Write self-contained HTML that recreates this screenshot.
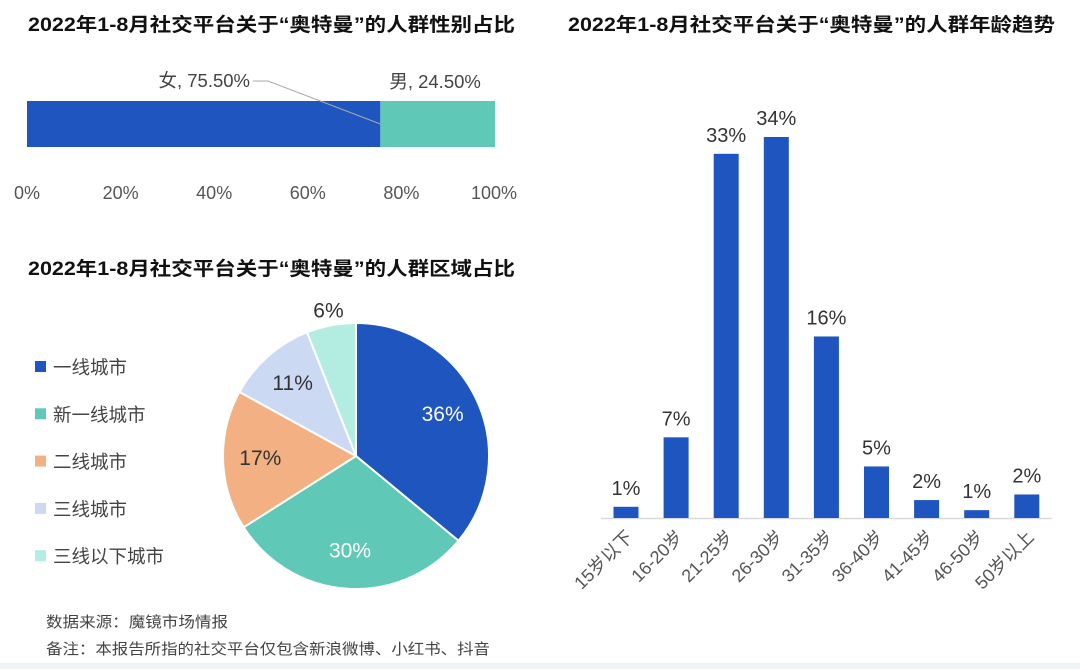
<!DOCTYPE html>
<html><head><meta charset="utf-8">
<style>
body{margin:0;background:#fff;}
svg{display:block;font-family:"Liberation Sans","Noto Sans CJK SC",sans-serif;}
</style></head>
<body>
<svg id="c" width="1080" height="669" viewBox="0 0 1080 669" xmlns="http://www.w3.org/2000/svg">
<rect x="0" y="663" width="1080" height="6" fill="#f2f3f5"/>
<text x="28" y="31" font-size="19" font-weight="bold" fill="#111" textLength="487" lengthAdjust="spacingAndGlyphs">2022年1-8月社交平台关于“奥特曼”的人群性别占比</text>
<text x="568" y="31" font-size="19" font-weight="bold" fill="#111" textLength="487" lengthAdjust="spacingAndGlyphs">2022年1-8月社交平台关于“奥特曼”的人群年龄趋势</text>
<text x="28" y="275" font-size="19" font-weight="bold" fill="#111" textLength="487" lengthAdjust="spacingAndGlyphs">2022年1-8月社交平台关于“奥特曼”的人群区域占比</text>
<g id="gender"></g>
<g id="pie"></g>
<g id="age"></g>
<text x="46" y="627" font-size="15" fill="#444" textLength="182" lengthAdjust="spacingAndGlyphs">数据来源：魔镜市场情报</text>
<text x="46" y="654" font-size="15" fill="#444" textLength="444" lengthAdjust="spacingAndGlyphs">备注：本报告所指的社交平台仅包含新浪微博、小红书、抖音</text>
</svg>
<script>
const NS="http://www.w3.org/2000/svg";
const genderCats=["女","男"];
const genderVals=[75.5,24.5];
const genderTicks=[0,20,40,60,80,100];
const regionCats=["一线城市","新一线城市","二线城市","三线城市","三线以下城市"];
const regionVals=[36,30,17,11,6];
const ageCats=["15岁以下","16-20岁","21-25岁","26-30岁","31-35岁","36-40岁","41-45岁","46-50岁","50岁以上"];
const ageVals=[1.0,7.2,32.5,34,16.2,4.6,1.6,0.7,2.1];
const ageLabels=["1%","7%","33%","34%","16%","5%","2%","1%","2%"];

function mk(tag,attrs,parent,txt){const e=document.createElementNS(NS,tag);for(const k in attrs)e.setAttribute(k,attrs[k]);if(txt!==undefined)e.textContent=txt;parent.appendChild(e);return e;}

// gender
const g=document.getElementById('gender');
const gx=v=>27+v/100*468;
const gColors=["#1f55be","#5fc8b6"];
let acc=0;
genderVals.forEach((v,i)=>{
  const r=mk('rect',{x:gx(acc),y:101,width:gx(acc+v)-gx(acc),height:46,fill:gColors[i]},g);
  
  
  acc+=v;
});
const fl=mk('text',{x:250,y:87,'font-size':18.5,fill:'#444','text-anchor':'end'},g,genderCats[0]+", "+genderVals[0].toFixed(2)+"%");


const ln=mk('polyline',{points:`253,81 268,81 ${gx(genderVals[0])},124`,fill:'none',stroke:'#aaa','stroke-width':1},g);


const ml=mk('text',{x:gx(genderVals[0])+9,y:88,'font-size':18.5,fill:'#444'},g,genderCats[1]+", "+genderVals[1].toFixed(2)+"%");


genderTicks.forEach(t=>{
  const e=mk('text',{x:gx(t)+(t===0?0:t===100?-1:0),y:199,'font-size':18,fill:'#555','text-anchor':'middle'},g,t+"%");
  
  
});

// pie
const p=document.getElementById('pie');
const pColors=["#1f55be","#5fc8b6","#f3b082","#ccd9f3","#b3ede2"];
const lColors=["#fff","#fff","#333","#333","#333"];
const cx=356,cy=456,R=133;
const tot=regionVals.reduce((a,b)=>a+b,0);
let a0=-Math.PI/2;
regionVals.forEach((v,i)=>{
  const a1=a0+v/tot*2*Math.PI;
  const large=(a1-a0)>Math.PI?1:0;
  const d=`M${cx},${cy} L${cx+R*Math.cos(a0)},${cy+R*Math.sin(a0)} A${R},${R} 0 ${large} 1 ${cx+R*Math.cos(a1)},${cy+R*Math.sin(a1)} Z`;
  const s=mk('path',{d:d,fill:pColors[i],stroke:'#fff','stroke-width':2},p);
  
  
  const am=(a0+a1)/2;
  const rr=i===4?R+14:R*0.72;
  const t=mk('text',{x:cx+rr*Math.cos(am),y:cy+rr*Math.sin(am)+6,'font-size':21,fill:i===4?'#333':lColors[i],'text-anchor':'middle'},p,v+"%");
  
  
  a0=a1;
  const ly=367+i*47.3;
  const sq=mk('rect',{x:35,y:ly-6,width:11,height:11,fill:pColors[i]},p);
  
  
  const lt=mk('text',{x:53,y:ly+7,'font-size':18.5,fill:'#444'},p,regionCats[i]);
  
  
});

// age bars
const ag=document.getElementById('age');
const base=518, scale=381/34;
const bx=i=>626+i*50.1;
const ax=mk('line',{x1:601,y1:base+0.5,x2:1052,y2:base+0.5,stroke:'#d9d9d9','stroke-width':1.5},ag);


ageVals.forEach((v,i)=>{
  const h=v*scale;
  const b=mk('rect',{x:bx(i)-12.5,y:base-h,width:25,height:h,fill:'#1f55be'},ag);
  
  
  const t=mk('text',{x:bx(i),y:base-h-12,'font-size':20,fill:'#333','text-anchor':'middle'},ag,ageLabels[i]);
  
  
  const c=mk('text',{x:bx(i)+8,y:base+20,'font-size':18,fill:'#555','text-anchor':'end',transform:`rotate(-45 ${bx(i)+8} ${base+20})`},ag,ageCats[i]);
  
  
});
</script>
</body></html>
